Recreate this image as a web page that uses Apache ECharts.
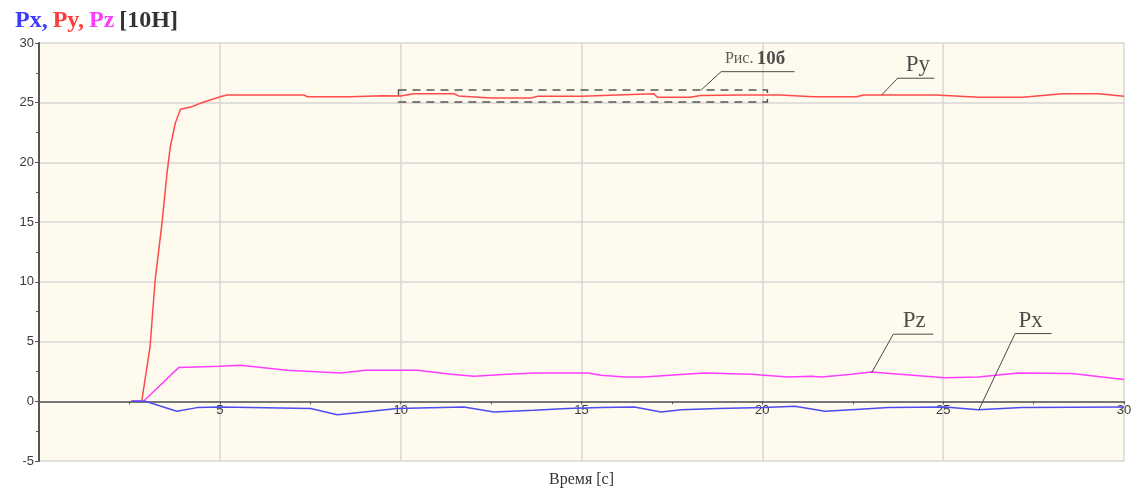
<!DOCTYPE html>
<html>
<head>
<meta charset="utf-8">
<script src="https://cdn.jsdelivr.net/npm/echarts@6/dist/echarts.min.js"></script>
<style>
  html, body { margin: 0; padding: 0; background: #ffffff; }
  #chart { width: 1138px; height: 491px; }
</style>
</head>
<body>
<div id="chart"></div>
<script>
// Cutting-force components over time (seconds), units of 10 N
const pyTime  = [2.55, 2.84, 3.07, 3.21, 3.4, 3.54, 3.63, 3.77, 3.91, 4.23, 4.46, 5.01, 5.2, 7.32, 7.42, 8.6, 9.5, 10.0, 10.36, 11.47, 11.6, 12.5, 13.6, 13.8, 15.0, 17.0, 17.1, 18.0, 18.3, 19.4, 20.5, 21.4, 22.6, 22.8, 24.8, 26.0, 27.2, 28.3, 29.3, 30.0];
const pyForce = [0, 0, 4.55, 10.1, 14.9, 19.1, 21.3, 23.3, 24.45, 24.67, 24.95, 25.5, 25.65, 25.65, 25.5, 25.5, 25.58, 25.57, 25.75, 25.75, 25.57, 25.4, 25.4, 25.55, 25.55, 25.75, 25.45, 25.45, 25.6, 25.65, 25.65, 25.5, 25.5, 25.65, 25.65, 25.45, 25.45, 25.75, 25.75, 25.55];

const pzTime  = [2.55, 2.89, 3.3, 3.86, 5.01, 5.57, 6.86, 8.34, 9.03, 10.46, 11.39, 12.03, 12.95, 13.69, 15.17, 15.54, 16.19, 16.73, 17.85, 18.4, 19.7, 20.06, 20.71, 21.36, 21.63, 22.47, 23.0, 25.05, 25.97, 27.08, 28.56, 30.0];
const pzForce = [0, 0, 1.2, 2.82, 2.93, 3.02, 2.6, 2.37, 2.6, 2.6, 2.26, 2.1, 2.26, 2.37, 2.37, 2.18, 2.04, 2.04, 2.26, 2.37, 2.26, 2.18, 2.04, 2.1, 2.04, 2.26, 2.46, 1.98, 2.04, 2.37, 2.32, 1.82];

const pxTime  = [2.55, 2.94, 3.81, 4.37, 5.01, 7.51, 8.25, 9.25, 9.9, 11.75, 12.58, 13.68, 14.6, 15.54, 16.46, 17.2, 17.76, 18.77, 20.06, 20.9, 21.73, 22.47, 23.48, 25.05, 25.97, 27.17, 30.0];
const pxForce = [0, 0, -0.84, -0.53, -0.48, -0.61, -1.12, -0.81, -0.61, -0.48, -0.89, -0.75, -0.61, -0.53, -0.48, -0.89, -0.7, -0.61, -0.53, -0.42, -0.84, -0.7, -0.53, -0.48, -0.7, -0.53, -0.48];

const xTicks = [5, 10, 15, 20, 25, 30];
const yTicks = [-5, 0, 5, 10, 15, 20, 25, 30];

// Callouts: leader polyline (data units) and label anchor
const callouts = [
  { text: '{n|Рис.} {b|10б}', line: [[18.31, 26.07], [18.86, 27.6], [20.89, 27.6]], at: [19.8, 28.65] },
  { text: '{t|Py}', line: [[23.3, 25.65], [23.74, 27.05], [24.76, 27.05]], at: [24.3, 28.2] },
  { text: '{t|Pz}', line: [[23.02, 2.37], [23.62, 5.62], [24.73, 5.62]], at: [24.2, 6.75] },
  { text: '{t|Px}', line: [[25.99, -0.7], [26.99, 5.67], [28.0, 5.67]], at: [27.42, 6.75] }
];
const zoomBox = [[9.94, 26.07], [20.14, 25.06]];

const zip = (t, v) => t.map((x, i) => [x, v[i]]);

const serif = '"Liberation Serif", "DejaVu Serif", serif';
const sans = '"Liberation Sans", Arial, sans-serif';

const chart = echarts.init(document.getElementById('chart'), null, { renderer: 'canvas' });

const calloutSeries = [];
callouts.forEach(c => {
  calloutSeries.push({
    type: 'line', data: c.line, symbol: 'none', silent: true, z: 4,
    lineStyle: { color: '#4a4a4a', width: 1 }
  });
  calloutSeries.push({
    type: 'scatter', data: [c.at], symbolSize: 1, silent: true, z: 5,
    itemStyle: { color: 'rgba(0,0,0,0)' },
    label: {
      show: true, position: 'inside', formatter: c.text,
      rich: {
        n: { fontFamily: serif, fontSize: 16, color: '#333' },
        b: { fontFamily: serif, fontSize: 19, fontWeight: 'bold', color: '#222' },
        t: { fontFamily: serif, fontSize: 23, color: '#222' }
      }
    }
  });
});

chart.setOption({
  animation: false,
  backgroundColor: '#ffffff',
  title: {
    left: 10, top: 4,
    text: '{bl|Px,} {rd|Py,} {mg|Pz} {dk|[10H]}',
    textStyle: {
      rich: {
        bl: { fontFamily: serif, fontSize: 24, color: '#3c3cff' },
        rd: { fontFamily: serif, fontSize: 24, color: '#ff3a3a' },
        mg: { fontFamily: serif, fontSize: 24, color: '#ff3cff' },
        dk: { fontFamily: serif, fontSize: 24, color: '#333333' }
      }
    }
  },
  grid: {
    left: 39, right: 14, top: 43, bottom: 30,
    show: true, backgroundColor: '#fffaee', borderWidth: 0
  },
  xAxis: {
    type: 'value', min: 0, max: 30, interval: 5,
    axisLine: { onZero: false, lineStyle: { color: '#555', width: 1.5 } },
    axisTick: { show: true, length: 3, lineStyle: { color: '#555' } },
    minorTick: { show: true, splitNumber: 2, length: 3, lineStyle: { color: '#555' } },
    axisLabel: {
      margin: 3, fontFamily: sans, fontSize: 13, color: '#3a3a3a',
      formatter: v => (xTicks.includes(v) ? String(v) : ''),
      showMinLabel: false
    },
    splitLine: { show: true, lineStyle: { color: '#d6d6d6', width: 1.5 } }
  },
  yAxis: {
    type: 'value', min: -5, max: 30, interval: 5,
    axisLine: { show: true, onZero: false, lineStyle: { color: '#555', width: 2 } },
    axisTick: { show: true, length: 4, lineStyle: { color: '#555' } },
    minorTick: { show: true, splitNumber: 2, length: 3, lineStyle: { color: '#555' } },
    axisLabel: {
      margin: 5, fontFamily: sans, fontSize: 13, color: '#3a3a3a',
      formatter: v => (yTicks.includes(v) ? String(v) : '')
    },
    splitLine: { show: true, lineStyle: { color: '#d6d6d6', width: 1.5 } }
  },
  series: [
    {
      name: 'Py', type: 'line', data: zip(pyTime, pyForce), symbol: 'none', z: 3,
      lineStyle: { color: '#ff4a4a', width: 1.5 },
      markArea: {
        silent: true,
        itemStyle: { color: 'rgba(0,0,0,0)', borderColor: '#555', borderWidth: 1.5, borderType: [8, 6] },
        data: [[{ coord: zoomBox[0] }, { coord: zoomBox[1] }]]
      }
    },
    {
      name: 'Pz', type: 'line', data: zip(pzTime, pzForce), symbol: 'none', z: 3,
      lineStyle: { color: '#ff3cff', width: 1.5 }
    },
    {
      name: 'Px', type: 'line', data: zip(pxTime, pxForce), symbol: 'none', z: 3,
      lineStyle: { color: '#4c4cf0', width: 1.5 }
    },
    ...calloutSeries
  ]
});

// Time axis sits on the zero line; the axis title stays under the plot
const yZero = chart.convertToPixel({ yAxisIndex: 0 }, 0);
const yBottom = chart.convertToPixel({ yAxisIndex: 0 }, -5);
const xMid = chart.convertToPixel({ xAxisIndex: 0 }, 15);
chart.setOption({
  xAxis: { offset: yZero - yBottom },
  graphic: [{
    type: 'text', x: xMid, y: yBottom + 19,
    style: { text: 'Время [с]', font: '16px ' + serif, fill: '#333', align: 'center', verticalAlign: 'middle' }
  }]
});
</script>
</body>
</html>
